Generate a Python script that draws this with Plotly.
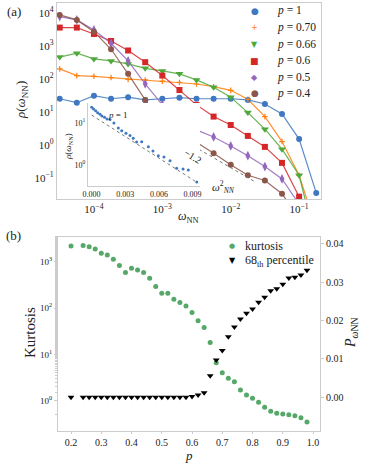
import math
import plotly.graph_objects as go

# ---------------- Panel (a) data ----------------
omega_nn = [3.16e-5, 5.62e-5, 1.0e-4, 1.78e-4, 3.16e-4, 5.62e-4, 1.0e-3, 1.78e-3,
            3.16e-3, 5.62e-3, 1.0e-2, 1.78e-2, 3.16e-2, 5.62e-2, 1.0e-1, 1.78e-1]
rho_p100 = [25, 19, 31, 25, 28, 23, 25, 27, 25, 25, 25, 23, 17.4, 8.7, 1.5, 0.035]
rho_p070 = [201, 126, 120, 110, 97, 93, 85, 78, 70, 58, 45, 24, 7.2, 1.26, 0.12, 0.003]
rho_p066 = [457, 603, 404, 351, 285, 209, 174, 142, 93, 56, 28, 9.5, 3.0, 0.74, 0.12, 0.001]
rho_p060 = [3590, 3590, 2300, 1410, 726, 321, 126, 46, 16.3, 7.2, 4.0, 1.87, 0.87, 0.285, 0.027, 0.0005]
rho_p050 = [7730, 6140, 3050, 1200, 351, 71, 16.3, 5.8, 2.85, 1.74, 0.93, 0.47, 0.22, 0.093, 0.016, 0.0005]
rho_p040 = [8700, 6140, 2700, 790, 142, 23, 5.1, 2.5, 1.2, 0.56, 0.25, 0.12, 0.083, 0.033, 0.006, 0.0005]
series_labels = ["<i>p</i> = 1", "<i>p</i> = 0.70", "<i>p</i> = 0.66",
                 "<i>p</i> = 0.6", "<i>p</i> = 0.5", "<i>p</i> = 0.4"]

# inset (p = 1), linear x (omega^2) vs log rho
inset_w2 = [0.00002, 0.00018, 0.00037, 0.00055, 0.00076, 0.00093, 0.00116, 0.00138,
            0.00165, 0.0020, 0.00239, 0.00269, 0.00307, 0.00343, 0.00372, 0.00402,
            0.00447, 0.00506, 0.00547, 0.00595, 0.00645, 0.00699, 0.00758, 0.00815,
            0.00862, 0.00937]
inset_rho = [23.3, 21.2, 19.3, 17.3, 15.9, 14.4, 13.4, 12.2, 11.9, 9.8, 7.5, 6.46,
             5.6, 4.96, 4.25, 3.47, 3.53, 2.68, 2.12, 1.63, 1.52, 1.24, 0.82, 0.79,
             0.75, 0.39]

# reference lines
slope_ref = -1.2
ref_anchor_x, ref_anchor_y = 10 ** -2.147, 10 ** -0.515
ref_x_range = [10 ** -3.07, 10 ** -1.66]
inset_ref_A, inset_ref_scale = 15.3, 0.00254
inset_ref_xrange = [0.00002, 0.0092]

# ---------------- Panel (b) data ----------------
p_vals = [0.20, 0.24, 0.26, 0.28, 0.30, 0.32, 0.34, 0.36, 0.38, 0.40, 0.42, 0.44, 0.46,
          0.48, 0.50, 0.52, 0.54, 0.56, 0.58, 0.60, 0.62, 0.64, 0.66, 0.68, 0.70, 0.72,
          0.74, 0.76, 0.78, 0.80, 0.82, 0.84, 0.86, 0.88, 0.90, 0.92, 0.94, 0.96, 0.98]
kurtosis = [2180, 2210, 2100, 1870, 1520, 1390, 1130, 820, 580, 721, 662, 580, 439,
            290, 209, 209, 155, 131, 111, 80, 53, 38, 18, 6.65, 4.05, 3.07,
            2.59, 1.72, 1.34, 1.14, 0.93, 0.73, 0.60, 0.54, 0.52, 0.50, 0.48, 0.43, 0.35]
pct68 = [0, 0, 0, 0, 0, 0, 0, 0, 0, 0, 0, 0, 0,
         0, 0, 0, 0, 0, 0, 0.0002, 0.0006, 0.0012, 0.0056, 0.0097, 0.0122, 0.0158,
         0.0183, 0.0204, 0.0219, 0.0230, 0.0248, 0.0261, 0.0278, 0.0283, 0.0295, 0.0311,
         0.0313, 0.0319, 0.0331]

# ---------------- styling ----------------
W, H = 374, 464
FONT = "Liberation Serif"
GLYPH = "DejaVu Sans"
FRAME = "#cccccc"
colors = ["#3f78c1", "#ff7f0e", "#4fa83a", "#d62728", "#9467bd", "#8c564b"]
symbols = ["circle", "cross-thin", "triangle-down", "square", "diamond-tall", "circle"]
msizes = [6, 4, 7, 6, 7, 6]
legend_glyphs = ["●", "+", "▼", "■", "◆", "●"]
legend_glyph_sizes = [9, 8, 8, 9, 8, 9]

fig = go.Figure()

all_rho = [rho_p100, rho_p070, rho_p066, rho_p060, rho_p050, rho_p040]
for rho, c in zip(all_rho, colors):
    fig.add_trace(go.Scatter(x=omega_nn, y=rho, mode="lines", line=dict(color=c, width=1.2),
                             opacity=0.85, showlegend=False, xaxis="x", yaxis="y",
                             hoverinfo="skip"))
for rho, c, s, ms, lab in zip(all_rho, colors, symbols, msizes, series_labels):
    mk = dict(color=c, symbol=s, size=ms)
    if s == "cross-thin":
        mk["line"] = dict(color=c, width=1.2)
    fig.add_trace(go.Scatter(x=omega_nn, y=rho, mode="markers", marker=mk, name=lab,
                             showlegend=False, xaxis="x", yaxis="y"))

# -1.2 reference line
ref_y = [ref_anchor_y * (xv / ref_anchor_x) ** slope_ref for xv in ref_x_range]
fig.add_trace(go.Scatter(x=ref_x_range, y=ref_y, mode="lines",
                         line=dict(color="#777777", width=1, dash="dot"),
                         showlegend=False, xaxis="x", yaxis="y"))

# inset
inset_ref_y = [inset_ref_A * math.exp(-xv / inset_ref_scale) for xv in inset_ref_xrange]
fig.add_trace(go.Scatter(x=inset_ref_xrange, y=inset_ref_y, mode="lines",
                         line=dict(color="#777777", width=1, dash="dot"),
                         showlegend=False, xaxis="x3", yaxis="y3"))
fig.add_trace(go.Scatter(x=inset_w2, y=inset_rho, mode="markers",
                         marker=dict(color="#3f78c1", size=3), showlegend=False,
                         xaxis="x3", yaxis="y3"))

# panel (b)
fig.add_trace(go.Scatter(x=p_vals, y=kurtosis, mode="markers",
                         marker=dict(color="#55a868", size=5), showlegend=False,
                         xaxis="x2", yaxis="y2"))
fig.add_trace(go.Scatter(x=p_vals, y=pct68, mode="markers",
                         marker=dict(color="black", size=6, symbol="triangle-down"),
                         showlegend=False, xaxis="x2", yaxis="y4"))

tickfont = dict(family=FONT, size=11, color="#222")
sup = lambda e: "10<sup>%s</sup>" % (str(e).replace("-", "−"))

common = dict(showgrid=False, zeroline=False, showline=True, linecolor=FRAME, linewidth=1.2)

fig.update_layout(
    width=W, height=H, margin=dict(l=0, r=0, t=0, b=0, autoexpand=False),
    paper_bgcolor="white", plot_bgcolor="white",
    font=dict(family=FONT, size=11, color="#222"),
    showlegend=False,
    xaxis=dict(type="log", range=[-4.54, -0.68], domain=[57 / W, 321 / W], anchor="y",
               mirror=True, tickvals=[1e-4, 1e-3, 1e-2, 1e-1],
               ticktext=[sup(-4), sup(-3), sup(-2), sup(-1)], tickfont=tickfont,
               ticks="", **common),
    yaxis=dict(type="log", range=[-1.64, 4.3], domain=[1 - 199 / H, 1 - 3 / H], anchor="x",
               mirror=True, tickvals=[1e-1, 1, 10, 100, 1e3, 1e4],
               ticktext=[sup(-1), sup(0), sup(1), sup(2), sup(3), sup(4)], tickfont=tickfont,
               ticks="", **common),
    xaxis3=dict(range=[-0.00031, 0.00966], domain=[88 / W, 200 / W], anchor="y3",
                tickvals=[0.0, 0.003, 0.006, 0.009],
                ticktext=["0.000", "0.003", "0.006", "0.009"],
                tickfont=dict(family=FONT, size=8, color="#222"), ticks="", **common),
    yaxis3=dict(type="log", range=[-0.507, 1.469], domain=[1 - 186 / H, 1 - 103 / H],
                anchor="x3", tickvals=[1, 10], ticktext=[sup(0), sup(1)],
                tickfont=dict(family=FONT, size=8, color="#222"), ticks="", **common),
    xaxis2=dict(range=[0.157, 1.023], domain=[58 / W, 320 / W], anchor="y2", mirror=True,
                tickvals=[0.2, 0.3, 0.4, 0.5, 0.6, 0.7, 0.8, 0.9, 1.0],
                ticktext=["0.2", "0.3", "0.4", "0.5", "0.6", "0.7", "0.8", "0.9", "1.0"],
                tickfont=dict(family=FONT, size=10, color="#222"),
                ticks="outside", ticklen=2, tickcolor=FRAME, **common),
    yaxis2=dict(type="log", range=[-0.65, 3.53], domain=[1 - 431 / H, 1 - 237 / H],
                anchor="x2", mirror=True, tickvals=[1, 10, 100, 1000],
                ticktext=[sup(0), sup(1), sup(2), sup(3)],
                tickfont=dict(family=FONT, size=9, color="#222"),
                ticks="outside", ticklen=3, tickcolor=FRAME,
                minor=dict(ticks="outside", ticklen=2, tickcolor=FRAME), **common),
    yaxis4=dict(range=[-0.0088, 0.0418], overlaying="y2", side="right", anchor="x2",
                tickvals=[0.0, 0.01, 0.02, 0.03, 0.04],
                ticktext=["0.00", "0.01", "0.02", "0.03", "0.04"],
                tickfont=dict(family=FONT, size=10, color="#222"),
                ticks="outside", ticklen=3, tickcolor=FRAME, **common),
)

ann = []
def A(x, y, text, size=12, angle=0, xanchor="center", yanchor="middle", color="#222", family=FONT):
    ann.append(dict(x=x / W, y=1 - y / H, xref="paper", yref="paper", text=text, showarrow=False,
                    font=dict(family=family, size=size, color=color), textangle=angle,
                    xanchor=xanchor, yanchor=yanchor))

A(14, 12, "(a)", 13)
A(14, 236, "(b)", 13)
A(22, 100, "<i>ρ</i>(<i>ω</i><sub>NN</sub>)", 13, angle=-90)
A(188, 217, "<i>ω</i><sub>NN</sub>", 12)
A(68, 147, "<i>ρ</i>(<i>ω</i><sub>NN</sub>)", 9, angle=-90)
A(118, 115, "<i>p</i> = 1", 9)
A(224, 187, "<i>ω</i><sup>2</sup><sub><i>NN</i></sub>", 11)
A(193, 156, "−1.2", 10, angle=32)
A(189, 455, "<i>p</i>", 13)
A(30, 333, "Kurtosis", 15, angle=-90)
A(351, 333, "<i>P</i><sub><i>ω</i>NN</sub>", 14, angle=-90)

# legend (a)
for i, (lab, c, g, gs) in enumerate(zip(series_labels, colors, legend_glyphs, legend_glyph_sizes)):
    yy = 11 + 16.5 * i
    A(255, yy, g, gs, color=c, family=GLYPH)
    A(275, yy, lab, 11.5, xanchor="left")

# legend (b)
A(232, 245.7, "●", 7, color="#55a868", family=GLYPH)
A(232, 260.7, "▼", 8, color="black", family=GLYPH)
A(243, 245.7, "kurtosis", 12, xanchor="left")
A(243, 260.7, "68<sub>th</sub> percentile", 12, xanchor="left")

fig.update_layout(annotations=ann)
fig.write_html("out.html", config={"displayModeBar": False},
               post_script="document.body.style.margin='0';document.body.style.overflow='hidden';")
